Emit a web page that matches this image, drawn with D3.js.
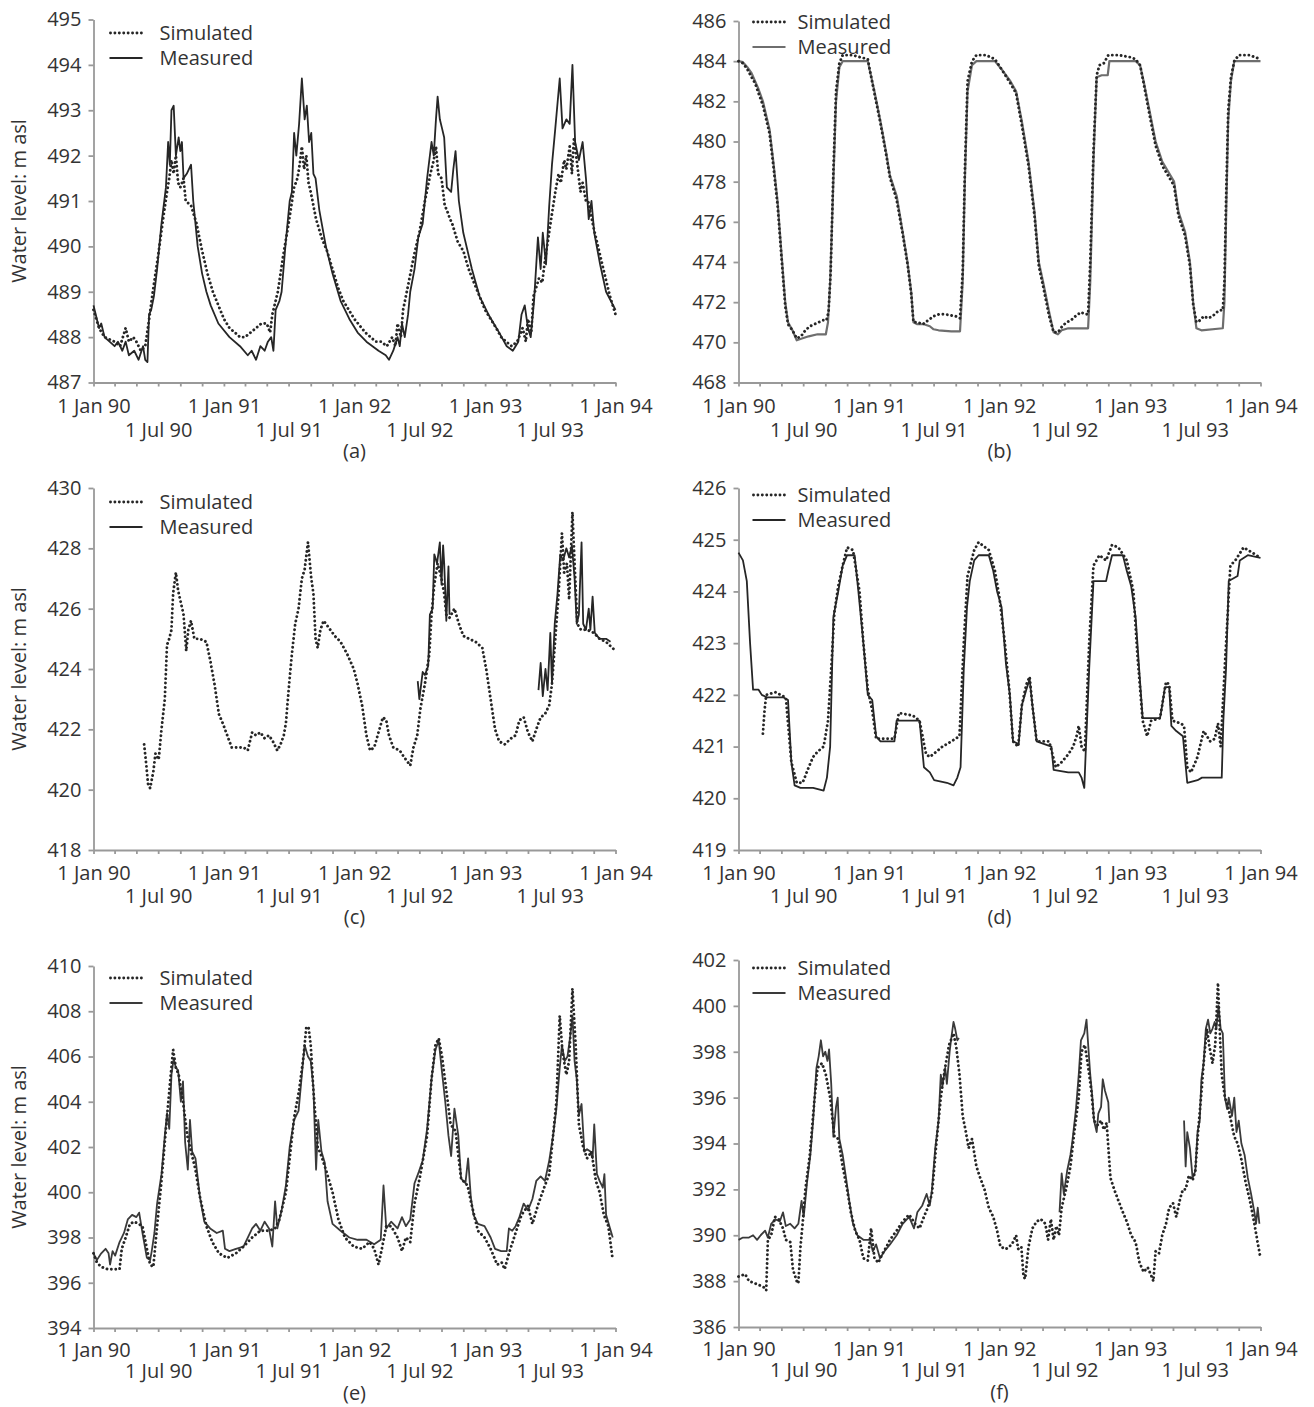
<!DOCTYPE html>
<html>
<head>
<meta charset="utf-8">
<title>Water level: simulated and measured</title>
<script src="https://cdn.jsdelivr.net/npm/d3@7"></script>
<style>
	body { margin: 0; background: #fff; }
	text { font-family: "Open Sans", sans-serif; fill: #333; }
</style>
</head>
<body>
<div id="vis"></div>
<script type="text/javascript">
// Each series: [months since 1 Jan 1990, water level (m asl)], null = gap in record
var simA = [[0,488.6],[0.5,488.2],[1,488.0],[1.5,487.95],[2,487.9],[2.5,487.8],[3,488.2],[3.3,487.9],[3.7,488.0],[4,487.9],[4.4,487.7],[4.8,487.8],[5.1,488.3],[5.5,489.0],[6,489.8],[6.5,490.7],[6.8,491.2],[7,491.5],[7.2,491.9],[7.4,491.6],[7.6,492.0],[7.8,491.4],[8,491.3],[8.3,491.5],[8.5,491.0],[9,490.9],[9.5,490.5],[10,489.9],[10.5,489.4],[11,489.0],[11.5,488.7],[12,488.4],[12.5,488.2],[13,488.1],[13.5,488.0],[14,488.0],[14.5,488.1],[15,488.2],[15.5,488.3],[16,488.3],[16.3,488.1],[16.5,488.5],[17,489.0],[17.5,489.8],[18,490.5],[18.5,491.3],[18.8,491.5],[19,491.8],[19.2,492.2],[19.4,491.7],[19.6,492.0],[19.8,491.4],[20,491.2],[20.5,490.6],[21,490.2],[21.5,489.9],[22,489.5],[22.5,489.1],[23,488.8],[23.5,488.6],[24,488.4],[25,488.1],[26,487.9],[26.5,487.9],[27,487.8],[27.5,488.0],[27.8,487.8],[28,488.3],[28.3,488.0],[28.5,488.6],[29,489.2],[29.5,489.8],[30,490.3],[30.5,491.0],[31,491.6],[31.3,491.9],[31.5,492.2],[31.7,491.6],[32,491.5],[32.3,490.9],[32.5,490.8],[32.8,490.6],[33,490.5],[33.5,490.1],[34,489.9],[34.5,489.5],[35,489.2],[35.5,488.9],[36,488.6],[36.5,488.4],[37,488.2],[37.5,488.0],[38,487.9],[38.5,487.8],[39,487.9],[39.5,488.2],[39.8,487.9],[40,488.4],[40.3,488.1],[40.5,488.9],[41,489.3],[41.3,489.2],[41.5,489.6],[42,490.4],[42.5,491.2],[42.8,491.6],[43,491.4],[43.3,491.9],[43.5,491.7],[43.8,492.2],[44,491.6],[44.2,492.4],[44.5,491.8],[44.8,491.2],[45,491.4],[45.3,491.0],[45.5,491.0],[46,490.4],[46.5,489.9],[47,489.4],[47.5,488.9],[48,488.5]];
var measA = [[0,488.7],[0.5,488.2],[0.7,488.3],[1.0,488.0],[1.5,487.9],[2.0,487.8],[2.3,487.9],[2.7,487.7],[3.0,487.9],[3.3,487.6],[3.8,487.7],[4.2,487.5],[4.6,487.8],[4.8,487.5],[5.0,487.45],[5.15,488.5],[5.35,488.6],[5.6,488.9],[5.9,489.5],[6.3,490.5],[6.7,491.3],[6.9,492.3],[7.05,491.8],[7.2,493.0],[7.4,493.1],[7.6,492.0],[7.85,492.4],[8.0,492.1],[8.15,492.3],[8.3,491.5],[8.6,491.6],[9.0,491.8],[9.2,491.0],[9.6,490.0],[10.0,489.4],[10.4,489.0],[10.8,488.7],[11.5,488.3],[12.5,488.0],[13.5,487.8],[14.25,487.6],[14.6,487.7],[15.0,487.5],[15.4,487.8],[15.8,487.7],[16.1,487.9],[16.4,488.0],[16.6,487.7],[16.8,488.6],[17.15,488.8],[17.35,489.0],[17.7,490.0],[18.1,491.0],[18.3,491.2],[18.5,492.5],[18.7,492.0],[18.95,492.7],[19.2,493.7],[19.45,492.8],[19.65,493.1],[19.85,492.3],[20.05,492.5],[20.25,491.6],[20.45,491.5],[20.8,490.8],[21.4,490.0],[22.0,489.4],[22.75,488.8],[23.55,488.4],[24.3,488.1],[25.1,487.9],[26.25,487.7],[26.9,487.6],[27.2,487.5],[27.6,487.7],[28.0,488.0],[28.2,487.8],[28.4,488.3],[28.65,488.0],[28.95,488.5],[29.15,489.0],[29.55,489.5],[29.9,490.2],[30.3,490.5],[30.7,491.5],[31.1,492.3],[31.3,492.0],[31.5,492.8],[31.65,493.3],[31.85,492.8],[32.05,492.6],[32.25,492.4],[32.5,491.3],[32.9,491.2],[33.1,491.7],[33.3,492.1],[33.6,491.0],[34.0,490.3],[34.8,489.5],[35.5,488.9],[36.3,488.5],[37.3,488.1],[38.05,487.8],[38.6,487.7],[39.1,487.9],[39.4,488.5],[39.7,488.7],[40.0,488.2],[40.25,488.0],[40.55,488.8],[40.9,490.2],[41.15,489.5],[41.35,490.3],[41.65,489.6],[41.95,490.9],[42.2,491.8],[42.5,492.6],[42.9,493.7],[43.15,492.6],[43.5,492.8],[43.8,492.7],[44.05,494.0],[44.3,492.3],[44.65,491.9],[45.0,492.3],[45.3,491.5],[45.55,490.6],[45.8,491.0],[46.05,490.3],[46.6,489.6],[47.15,489.0],[48,488.6]];

var simB = [[0,484.0],[0.4,483.9],[0.8,483.6],[1.2,483.2],[1.55,482.9],[1.9,482.4],[2.3,481.8],[2.6,481.1],[2.9,480.4],[3.25,478.8],[3.65,476.8],[4.0,474.3],[4.35,471.8],[4.6,470.9],[5.0,470.6],[5.4,470.2],[5.8,470.3],[6.2,470.6],[6.6,470.8],[7.0,470.9],[7.4,471.0],[7.8,471.1],[8.1,471.1],[8.3,471.5],[8.5,473.5],[8.75,478.5],[9.0,482.5],[9.3,483.9],[9.6,484.3],[10.5,484.3],[11.2,484.2],[11.9,484.1],[12.1,483.5],[12.5,482.4],[13.05,480.9],[13.6,479.4],[14.0,478.2],[14.6,477.1],[15.15,475.4],[15.6,473.9],[15.95,472.4],[16.15,471.0],[16.5,471.0],[17.0,470.9],[17.5,471.1],[18.0,471.3],[18.5,471.4],[19.0,471.4],[19.5,471.35],[20.0,471.3],[20.4,471.2],[20.65,473.5],[20.85,478.5],[21.1,483.0],[21.5,484.0],[21.9,484.3],[22.8,484.3],[23.6,484.1],[24.2,483.6],[25.0,482.9],[25.55,482.4],[26.1,480.8],[26.7,478.8],[27.25,476.3],[27.65,473.8],[28.05,472.8],[28.6,471.3],[29.0,470.5],[29.4,470.5],[29.8,470.8],[30.2,471.0],[30.6,471.1],[31.0,471.3],[31.5,471.5],[31.9,471.4],[32.15,471.4],[32.35,474.0],[32.65,479.5],[32.95,483.3],[33.2,483.8],[33.6,483.9],[34.0,484.3],[35.0,484.3],[36.0,484.2],[36.5,484.1],[36.9,483.8],[37.25,482.9],[37.85,481.3],[38.4,479.8],[39.0,478.8],[39.55,478.3],[40.1,477.8],[40.5,476.3],[41.1,475.3],[41.55,473.8],[41.85,471.9],[42.15,471.0],[42.5,471.1],[42.8,471.3],[43.2,471.2],[43.6,471.3],[44.0,471.5],[44.3,471.6],[44.55,471.6],[44.7,473.0],[44.85,477.0],[45.05,481.5],[45.3,483.2],[45.6,484.0],[46.0,484.3],[47.0,484.3],[48,484.1]];
var measB = [[0,484.0],[0.4,483.95],[0.8,483.7],[1.2,483.4],[1.55,483.0],[1.9,482.6],[2.3,482.0],[2.6,481.3],[2.9,480.6],[3.25,479.0],[3.65,477.0],[4.0,474.5],[4.35,472.0],[4.6,471.0],[5.0,470.6],[5.4,470.1],[5.95,470.2],[6.5,470.3],[7.3,470.4],[8.05,470.4],[8.25,471.0],[8.45,473.0],[8.75,478.0],[9.0,482.0],[9.3,483.7],[9.6,484.0],[11.9,484.0],[12.1,483.5],[12.5,482.5],[13.05,481.0],[13.6,479.5],[14.0,478.3],[14.6,477.3],[15.15,475.5],[15.6,474.0],[15.95,472.5],[16.15,471.0],[16.5,470.9],[17.1,470.9],[17.65,470.8],[18.0,470.65],[18.45,470.6],[19.6,470.55],[20.4,470.55],[20.65,473.0],[20.85,478.0],[21.1,482.5],[21.5,483.8],[21.9,484.0],[23.6,484.0],[24.2,483.6],[25.0,483.0],[25.55,482.5],[26.1,481.0],[26.7,479.0],[27.25,476.5],[27.65,474.0],[28.05,473.0],[28.6,471.5],[29.0,470.5],[29.4,470.4],[29.75,470.6],[30.35,470.7],[31.1,470.7],[32.15,470.7],[32.35,473.0],[32.65,479.0],[32.95,483.2],[33.4,483.3],[33.95,483.3],[34.1,484.0],[36.5,484.0],[36.9,483.8],[37.25,483.0],[37.85,481.5],[38.4,480.0],[39.0,479.0],[39.55,478.5],[40.1,478.0],[40.5,476.5],[41.1,475.5],[41.55,474.0],[41.85,472.0],[42.15,470.7],[42.6,470.6],[44.55,470.7],[44.7,472.0],[44.85,476.0],[45.05,481.0],[45.3,483.0],[45.6,484.0],[48,484.0]];

var simC = [[4.7,421.5],[4.9,420.8],[5.05,420.2],[5.25,420.05],[5.55,420.6],[5.75,421.2],[6.05,421.0],[6.3,422.0],[6.6,423.0],[6.8,424.8],[7.0,425.0],[7.2,425.3],[7.35,426.5],[7.6,427.2],[7.8,426.6],[8.05,426.2],[8.3,425.8],[8.55,424.6],[8.75,425.3],[9.0,425.6],[9.3,425.0],[9.8,425.0],[10.4,424.9],[10.75,424.3],[11.15,423.5],[11.55,422.5],[11.9,422.2],[12.3,421.8],[12.7,421.4],[13.3,421.4],[13.85,421.4],[14.25,421.3],[14.65,421.9],[15.0,421.8],[15.4,421.9],[15.8,421.7],[16.2,421.8],[16.55,421.6],[16.95,421.3],[17.25,421.5],[17.55,421.8],[17.75,422.2],[18.05,423.5],[18.3,424.5],[18.6,425.5],[18.9,426.0],[19.2,427.0],[19.45,427.3],[19.75,428.2],[20.05,427.0],[20.25,426.5],[20.45,425.0],[20.65,424.7],[20.9,425.3],[21.2,425.6],[21.6,425.4],[22.2,425.1],[22.75,424.9],[23.35,424.5],[23.95,424.0],[24.3,423.5],[24.7,422.8],[25.1,421.8],[25.45,421.3],[25.85,421.4],[26.25,421.9],[26.65,422.4],[26.95,422.3],[27.2,421.8],[27.6,421.4],[28.2,421.3],[28.55,421.1],[28.95,420.9],[29.15,420.8],[29.45,421.4],[29.8,421.8],[30.1,422.7],[30.5,423.5],[30.9,424.5],[31.1,425.8],[31.35,426.8],[31.65,427.5],[32.0,427.0],[32.25,426.5],[32.45,425.8],[32.75,425.7],[33.2,426.0],[33.6,425.5],[34.0,425.1],[34.55,425.0],[35.15,424.9],[35.75,424.7],[36.1,424.0],[36.5,423.0],[36.9,422.0],[37.3,421.6],[37.85,421.5],[38.45,421.7],[38.85,421.8],[39.2,422.3],[39.6,422.4],[40.0,421.9],[40.4,421.6],[40.75,422.0],[41.15,422.4],[41.55,422.5],[41.95,422.8],[42.2,423.5],[42.5,425.0],[42.8,426.5],[43.1,428.5],[43.3,427.2],[43.55,427.5],[43.75,426.3],[44.05,429.2],[44.25,427.5],[44.5,425.5],[44.85,425.3],[45.4,425.3],[46.0,425.2],[46.55,425.0],[47.15,424.9],[48,424.6]];
var measC = [[29.85,423.6],[30.0,423.0],[30.3,423.9],[30.5,423.8],[30.8,424.1],[30.95,425.8],[31.2,426.0],[31.35,427.8],[31.6,427.5],[31.85,428.2],[32.0,426.8],[32.15,428.1],[32.25,427.5],[32.45,425.6],[32.65,427.4],[32.75,425.8],[32.8,null],[40.95,423.3],[41.15,424.2],[41.35,423.1],[41.6,424.0],[41.8,423.3],[42.05,425.2],[42.2,423.5],[42.45,425.5],[42.7,426.5],[42.95,427.8],[43.2,427.6],[43.5,428.0],[43.75,427.7],[44.0,428.1],[44.25,427.0],[44.45,425.5],[44.65,425.8],[44.9,428.2],[45.05,425.5],[45.3,425.3],[45.55,426.0],[45.7,425.3],[45.9,426.4],[46.1,425.2],[46.55,425.0],[47.15,425.0],[47.55,424.9]];

var simD = [[2.3,421.25],[2.45,421.7],[2.6,422.0],[3.45,422.05],[4.4,421.95],[4.9,420.7],[5.4,420.3],[5.95,420.3],[6.5,420.6],[6.9,420.8],[7.3,420.9],[7.85,421.0],[8.25,421.5],[8.55,422.5],[8.85,423.6],[9.2,424.1],[9.6,424.5],[10.0,424.85],[10.55,424.8],[11.15,424.0],[11.5,423.0],[11.9,422.1],[12.3,421.7],[12.65,421.15],[14.4,421.15],[14.8,421.65],[16.1,421.6],[16.7,421.5],[17.3,420.85],[17.65,420.8],[18.25,420.9],[18.8,421.0],[19.6,421.1],[20.35,421.2],[20.75,423.0],[21.1,424.3],[21.7,424.8],[22.1,424.95],[23.05,424.8],[23.6,424.4],[24.0,423.9],[24.5,423.0],[24.9,422.1],[25.25,421.1],[25.75,421.0],[26.1,421.8],[26.5,422.2],[26.8,422.35],[27.05,421.8],[27.45,421.1],[28.6,421.1],[29.2,420.6],[29.75,420.7],[30.35,420.85],[30.8,421.0],[31.1,421.2],[31.3,421.4],[31.55,421.0],[31.85,420.9],[32.25,423.0],[32.65,424.5],[33.2,424.7],[33.8,424.6],[34.35,424.9],[34.95,424.85],[35.7,424.6],[36.3,424.0],[36.65,422.8],[37.15,421.5],[37.6,421.2],[38.0,421.5],[38.8,421.55],[39.35,422.25],[39.65,422.2],[39.95,421.5],[40.7,421.45],[41.0,421.4],[41.3,420.6],[41.65,420.5],[42.25,420.8],[42.8,421.3],[43.4,421.1],[43.8,421.15],[44.1,421.45],[44.35,421.0],[44.75,422.6],[45.25,424.5],[45.7,424.6],[46.45,424.85],[47.25,424.75],[48,424.65]];
var measD = [[0,424.75],[0.4,424.6],[0.75,424.2],[1.05,423.0],[1.35,422.1],[1.9,422.1],[2.2,422.0],[2.7,421.95],[4.2,421.95],[4.6,421.9],[4.9,420.7],[5.2,420.25],[5.75,420.2],[6.9,420.2],[7.85,420.15],[8.15,420.4],[8.45,421.0],[8.75,423.5],[9.2,424.0],[9.6,424.5],[10.0,424.7],[10.7,424.7],[11.05,424.0],[11.5,423.0],[11.9,422.0],[12.3,421.9],[12.65,421.2],[13.05,421.1],[14.4,421.1],[14.6,421.5],[15.35,421.5],[16.7,421.5],[17.1,420.6],[17.65,420.5],[18.05,420.35],[19.2,420.3],[19.8,420.25],[20.15,420.4],[20.45,420.6],[20.75,422.5],[21.05,423.7],[21.3,424.2],[21.7,424.6],[22.1,424.7],[23.05,424.7],[23.45,424.4],[23.8,424.0],[24.2,423.7],[24.6,422.6],[24.95,422.0],[25.25,421.1],[25.8,421.05],[26.1,421.8],[26.5,422.1],[26.8,422.3],[27.05,421.8],[27.45,421.1],[28.8,421.0],[29.0,420.55],[30.35,420.5],[31.3,420.5],[31.55,420.4],[31.8,420.2],[31.95,421.0],[32.25,422.5],[32.65,424.2],[33.8,424.2],[34.0,424.4],[34.35,424.7],[35.35,424.7],[35.7,424.4],[36.1,424.1],[36.5,423.5],[36.85,422.4],[37.15,421.55],[38.8,421.55],[39.0,421.8],[39.25,422.15],[39.65,422.15],[39.85,421.4],[40.3,421.3],[40.9,421.2],[41.3,420.3],[42.25,420.35],[42.65,420.4],[44.15,420.4],[44.45,420.4],[44.6,421.5],[44.85,422.5],[45.1,424.2],[45.9,424.3],[46.1,424.6],[46.85,424.7],[48,424.65]];

var simE = [[0,397.3],[0.3,396.9],[0.7,396.7],[1.3,396.6],[1.85,396.6],[2.45,396.6],[2.65,397.5],[3.0,398.0],[3.4,398.6],[3.8,398.7],[4.2,398.6],[4.55,398.5],[4.95,397.5],[5.25,396.8],[5.55,396.7],[5.9,398.5],[6.3,400.5],[6.7,402.8],[7.1,405.0],[7.35,406.3],[7.6,405.5],[7.85,405.2],[8.25,404.0],[8.65,402.5],[9.0,401.8],[9.4,401.0],[9.8,399.8],[10.4,398.5],[10.95,397.8],[11.55,397.3],[12.3,397.1],[13.1,397.3],[13.85,397.6],[14.65,398.0],[15.4,398.3],[16.2,398.3],[16.75,398.4],[17.15,398.8],[17.75,400.0],[18.1,401.5],[18.5,403.3],[18.95,404.5],[19.35,406.0],[19.6,407.3],[19.8,407.3],[20.0,406.5],[20.25,404.5],[20.65,402.0],[21.0,401.6],[21.4,401.0],[22.0,400.0],[22.55,398.8],[23.15,398.0],[23.95,397.6],[24.7,397.5],[25.4,397.8],[25.85,397.5],[26.25,396.8],[26.55,397.5],[26.95,398.5],[27.4,398.5],[28.0,398.0],[28.4,397.4],[28.75,398.0],[29.15,397.8],[29.55,399.5],[30.1,400.8],[30.7,402.5],[31.1,405.0],[31.45,406.5],[31.75,406.8],[32.05,406.0],[32.45,404.5],[32.85,403.0],[33.3,402.7],[33.8,400.6],[34.4,400.3],[34.75,399.5],[35.35,398.3],[35.95,398.0],[36.5,397.5],[37.1,396.8],[37.55,396.9],[37.85,396.6],[38.25,397.3],[38.85,398.2],[39.4,399.0],[40.0,399.4],[40.4,398.6],[40.95,399.5],[41.55,400.3],[41.95,400.8],[42.3,402.5],[42.6,404.0],[42.9,407.8],[43.15,406.2],[43.5,405.2],[43.75,405.8],[44.05,409.0],[44.35,406.5],[44.65,403.0],[45.05,402.0],[45.4,401.5],[45.8,401.8],[46.2,400.5],[46.55,400.0],[46.95,399.0],[47.35,398.5],[47.75,397.0]];
var measE = [[0,397.3],[0.3,397.0],[0.7,397.3],[1.1,397.5],[1.4,397.3],[1.55,396.8],[1.8,397.4],[2.05,397.2],[2.45,397.8],[2.85,398.2],[3.2,398.8],[3.6,399.0],[4.0,398.9],[4.25,399.1],[4.55,398.2],[4.95,397.1],[5.25,397.0],[5.4,397.4],[5.65,398.2],[5.9,399.5],[6.3,400.8],[6.6,402.5],[6.8,403.5],[7.0,402.8],[7.2,405.2],[7.4,405.9],[7.6,405.5],[7.8,405.4],[8.05,404.0],[8.25,404.9],[8.45,402.2],[8.7,401.0],[8.9,403.2],[9.1,401.8],[9.4,401.5],[9.8,399.8],[10.2,398.7],[10.75,398.4],[11.35,398.2],[11.9,398.3],[12.1,397.5],[12.5,397.4],[13.1,397.5],[13.85,397.6],[14.65,398.4],[15.0,398.6],[15.4,398.3],[15.8,398.7],[16.2,398.4],[16.5,397.6],[16.75,399.6],[16.95,398.4],[17.35,399.2],[17.75,400.3],[18.1,402.0],[18.5,403.2],[18.9,403.6],[19.2,405.2],[19.45,406.5],[19.75,406.0],[20.0,405.8],[20.25,404.6],[20.5,401.0],[20.7,403.2],[21.0,401.8],[21.3,401.3],[21.55,399.6],[22.0,398.6],[22.75,398.3],[23.55,398.0],[24.3,397.9],[25.1,397.9],[25.85,397.7],[26.45,397.9],[26.7,400.3],[26.95,398.4],[27.4,398.7],[28.0,398.4],[28.4,398.9],[28.75,398.5],[29.15,398.8],[29.55,400.4],[29.95,400.9],[30.3,401.4],[30.7,402.8],[31.1,405.0],[31.45,406.3],[31.75,406.7],[32.05,405.3],[32.35,404.0],[32.65,402.5],[32.9,401.6],[33.2,403.7],[33.55,402.5],[33.8,400.6],[34.2,400.4],[34.45,401.5],[34.7,399.8],[34.95,399.0],[35.35,398.6],[35.95,398.5],[36.5,398.0],[36.9,397.5],[37.5,397.4],[38.05,397.4],[38.25,398.4],[38.55,398.3],[38.85,398.5],[39.2,398.9],[39.6,399.5],[40.0,399.2],[40.4,399.7],[40.75,400.5],[41.15,400.7],[41.55,400.5],[41.95,401.4],[42.3,402.5],[42.6,403.7],[42.9,405.5],[43.1,406.5],[43.35,405.8],[43.6,406.0],[43.85,406.9],[44.05,407.8],[44.25,405.8],[44.45,405.0],[44.65,403.4],[44.9,403.9],[45.15,401.8],[45.4,401.9],[45.7,401.8],[45.9,401.5],[46.05,403.0],[46.3,400.8],[46.55,400.5],[46.85,400.2],[47.0,400.8],[47.15,399.0],[47.45,398.5],[47.75,398.0]];

var simF = [[0,388.2],[0.6,388.3],[0.95,388.0],[1.55,387.9],[2.1,387.8],[2.5,387.7],[2.6,387.6],[2.75,389.8],[3.05,390.0],[3.4,390.8],[3.75,390.7],[4.15,390.3],[4.4,389.8],[4.8,389.7],[5.05,388.5],[5.4,388.0],[5.55,387.9],[5.75,389.5],[5.95,390.5],[6.2,392.0],[6.6,393.5],[7.0,395.8],[7.3,397.3],[7.7,397.5],[8.05,397.0],[8.45,396.0],[8.85,394.3],[9.2,394.2],[9.6,393.0],[10.0,392.0],[10.35,391.0],[10.75,390.2],[11.15,389.8],[11.5,389.0],[11.9,388.9],[12.2,390.3],[12.5,389.0],[12.85,388.8],[13.25,389.2],[13.65,389.5],[14.0,389.8],[14.6,390.2],[15.15,390.6],[15.75,390.9],[16.3,390.5],[16.7,390.3],[17.1,390.8],[17.45,391.2],[17.85,391.8],[18.25,394.0],[18.65,396.0],[19.0,397.2],[19.4,398.3],[19.8,398.8],[20.05,398.2],[20.35,397.0],[20.65,395.2],[20.95,394.5],[21.2,393.8],[21.5,394.2],[21.9,393.0],[22.25,392.5],[22.65,392.0],[23.05,391.2],[23.45,390.8],[23.8,390.2],[24.1,389.5],[24.6,389.4],[25.15,389.6],[25.55,390.0],[25.75,389.4],[26.05,389.5],[26.25,388.2],[26.4,388.1],[26.7,389.5],[27.05,390.3],[27.45,390.6],[27.85,390.7],[28.25,390.5],[28.5,389.8],[28.75,390.7],[29.0,389.8],[29.25,390.4],[29.5,390.0],[29.75,391.2],[30.15,392.0],[30.55,393.0],[30.9,394.5],[31.3,396.0],[31.55,398.0],[31.85,398.3],[32.2,397.2],[32.45,396.3],[32.7,395.0],[33.05,394.8],[33.35,395.0],[33.6,394.6],[33.85,394.9],[34.2,392.5],[34.55,392.0],[34.95,391.5],[35.35,391.0],[35.7,390.6],[36.1,390.0],[36.5,389.7],[36.85,388.8],[37.25,388.4],[37.65,388.6],[37.95,388.3],[38.2,388.0],[38.4,389.3],[38.7,389.2],[39.0,390.0],[39.35,390.5],[39.65,391.2],[40.0,391.4],[40.3,390.8],[40.65,391.6],[40.9,392.0],[41.15,392.0],[41.45,392.6],[41.8,392.4],[42.05,392.8],[42.3,394.5],[42.65,396.5],[42.8,397.5],[43.1,399.0],[43.3,398.3],[43.6,397.5],[43.85,398.3],[44.1,401.0],[44.3,398.5],[44.45,397.0],[44.75,396.0],[45.0,395.7],[45.3,395.0],[45.6,394.3],[45.9,394.0],[46.25,393.3],[46.65,392.3],[47.05,391.5],[47.45,390.5],[47.7,389.8],[48,389.0]];
var measF = [[0,389.8],[0.4,389.9],[0.95,389.9],[1.35,390.0],[1.75,389.8],[2.1,390.0],[2.5,390.2],[2.75,389.9],[3.05,390.5],[3.45,390.7],[3.85,390.6],[4.15,391.0],[4.4,390.4],[4.8,390.5],[5.2,390.3],[5.55,390.5],[5.85,391.5],[6.05,390.8],[6.35,392.3],[6.65,393.5],[6.9,395.0],[7.2,397.3],[7.4,397.8],[7.6,398.5],[7.8,397.8],[8.0,398.0],[8.2,397.6],[8.35,398.1],[8.55,396.6],[8.75,394.3],[9.0,395.6],[9.15,396.0],[9.3,394.2],[9.6,393.5],[9.9,392.5],[10.2,391.5],[10.55,390.5],[10.95,390.0],[11.5,389.8],[12.1,389.8],[12.35,389.3],[12.65,389.6],[13.0,389.0],[13.45,389.3],[14.0,389.6],[14.6,390.0],[15.15,390.5],[15.75,390.8],[16.2,390.3],[16.5,391.0],[16.95,391.3],[17.35,391.8],[17.65,391.3],[17.85,392.0],[18.15,393.8],[18.45,395.0],[18.65,397.0],[18.8,396.5],[19.05,397.3],[19.2,396.6],[19.45,398.0],[19.6,398.6],[19.8,399.3],[19.95,399.0],[20.15,398.5],[20.3,398.6],[20.35,null],[29.55,391.0],[29.75,392.7],[29.95,391.8],[30.25,392.8],[30.55,393.5],[30.7,394.0],[31.05,395.5],[31.3,397.0],[31.5,398.5],[31.8,398.8],[32.0,399.4],[32.2,398.0],[32.35,397.0],[32.55,396.0],[32.7,395.0],[32.95,394.5],[33.1,395.3],[33.35,395.6],[33.5,396.8],[33.7,396.3],[34.0,395.8],[34.1,394.9],[34.15,null],[41.0,395.0],[41.15,393.0],[41.3,394.5],[41.55,393.8],[41.8,392.5],[42.05,392.8],[42.25,394.5],[42.45,395.0],[42.6,396.8],[42.8,397.5],[43.0,399.0],[43.2,399.4],[43.4,398.8],[43.6,399.0],[43.8,399.3],[43.95,399.0],[44.15,400.0],[44.35,399.0],[44.55,398.8],[44.75,396.0],[44.95,395.5],[45.1,396.0],[45.4,395.2],[45.6,396.0],[45.8,394.5],[46.0,395.0],[46.25,394.0],[46.55,393.5],[46.85,392.5],[47.15,391.8],[47.45,391.0],[47.6,390.5],[47.75,391.2],[47.9,390.5]];

// y tick labels for each panel
var yTicksA = [487,488,489,490,491,492,493,494,495];
var yTicksB = [468,470,472,474,476,478,480,482,484,486];
var yTicksC = [418,420,422,424,426,428,430];
var yTicksD = [419,420,421,422,423,424,425,426];
var yTicksE = [394,396,398,400,402,404,406,408,410];
var yTicksF = [386,388,390,392,394,396,398,400,402];

var seriesNames = ['Simulated', 'Measured'];
var panelLabels = ['(a)', '(b)', '(c)', '(d)', '(e)', '(f)'];

const PLOT_W = 522;
const AXIS_COLOR = '#999999';
const FONT_SIZE = 20;
const DOTS = '0.01 4.4';

// lab1/lab2/labP: baselines of Jan labels, Jul labels and panel letter below the x axis
var panels = [
	{sim: simA, meas: measA, ticks: yTicksA, left: 93.5, top: 19.5, bottom: 382.5, lab1: 30.5, lab2: 54.5, labP: 75.5, title: true, legX: 16, txtX: 66, legY: 33, measColor: '#262626'},
	{sim: simB, meas: measB, ticks: yTicksB, left: 738.5, top: 21, bottom: 382.5, lab1: 30.5, lab2: 54.5, labP: 75.5, title: false, legX: 14, txtX: 59, legY: 22, measColor: '#6e6e6e'},
	{sim: simC, meas: measC, ticks: yTicksC, left: 93.5, top: 488, bottom: 850, lab1: 30, lab2: 53, labP: 74, title: true, legX: 16, txtX: 66, legY: 502, measColor: '#262626'},
	{sim: simD, meas: measD, ticks: yTicksD, left: 738.5, top: 488, bottom: 850, lab1: 30, lab2: 53, labP: 74, title: false, legX: 14, txtX: 59, legY: 495, measColor: '#262626'},
	{sim: simE, meas: measE, ticks: yTicksE, left: 93.5, top: 966, bottom: 1328, lab1: 28.5, lab2: 50, labP: 72, title: true, legX: 16, txtX: 66, legY: 978, measColor: '#3a3a3a'},
	{sim: simF, meas: measF, ticks: yTicksF, left: 738.5, top: 960, bottom: 1327, lab1: 28.5, lab2: 50, labP: 72, title: false, legX: 14, txtX: 59, legY: 968, measColor: '#3a3a3a'}
];

var svg = d3.select('#vis').append('svg')
	.attr('width', 1314)
	.attr('height', 1407);

var t0 = new Date(Date.UTC(1990, 0, 1));
var t1 = new Date(Date.UTC(1994, 0, 1));
// months since 1 Jan 90 -> date
function toDate(m) {
	var i = Math.floor(m);
	var a = d3.utcMonth.offset(t0, i);
	var b = d3.utcMonth.offset(a, 1);
	return new Date(+a + (m - i) * (b - a));
}
var fmt = d3.utcFormat('%-d %b %y');

panels.forEach(function(p, idx) {
	var g = svg.append('g');
	var x = d3.scaleUtc().domain([t0, t1]).range([p.left, p.left + PLOT_W]);
	var y = d3.scaleLinear().domain([p.ticks[0], p.ticks[p.ticks.length - 1]]).range([p.bottom, p.top]);
	var measW = idx === 1 ? 2.2 : 1.8;

	// axes
	var xAxis = d3.axisBottom(x)
		.ticks(d3.utcMonth.every(2))
		.tickSize(4).tickSizeOuter(0)
		.tickFormat(function(d) {
			var mo = d.getUTCMonth();
			return (mo === 0 || mo === 6) ? fmt(d) : '';
		});
	var gx = g.append('g').attr('transform', 'translate(0,' + p.bottom + ')').call(xAxis);
	gx.selectAll('.tick text')
		.attr('dy', null)
		.attr('y', function(d) { return d.getUTCMonth() === 6 ? p.lab2 : p.lab1; });

	var yAxis = d3.axisLeft(y).tickValues(p.ticks)
		.tickFormat(d3.format('d'))
		.tickSize(5).tickSizeOuter(0).tickPadding(7);
	var gy = g.append('g').attr('transform', 'translate(' + p.left + ',0)').call(yAxis);

	[gx, gy].forEach(function(ax) {
		ax.attr('font-family', null).attr('font-size', FONT_SIZE);
		ax.selectAll('path, line').attr('stroke', AXIS_COLOR).attr('stroke-width', 1.8);
		ax.selectAll('text').attr('fill', '#333');
	});

	// series
	var line = d3.line()
		.defined(function(d) { return d[1] != null; })
		.x(function(d) { return x(toDate(d[0])); })
		.y(function(d) { return y(d[1]); });

	g.append('path').datum(p.meas)
		.attr('d', line)
		.attr('fill', 'none')
		.attr('stroke', p.measColor)
		.attr('stroke-width', measW)
		.attr('stroke-linejoin', 'round');

	g.append('path').datum(p.sim)
		.attr('d', line)
		.attr('fill', 'none')
		.attr('stroke', '#262626')
		.attr('stroke-width', 2.9)
		.attr('stroke-linecap', 'round')
		.attr('stroke-dasharray', DOTS);

	// legend
	var lg = g.append('g').attr('transform', 'translate(' + p.left + ',' + p.legY + ')');
	lg.append('line').attr('x1', p.legX + 1).attr('x2', p.legX + 33).attr('y1', 0).attr('y2', 0)
		.attr('stroke', '#262626').attr('stroke-width', 2.9)
		.attr('stroke-linecap', 'round').attr('stroke-dasharray', DOTS);
	lg.append('line').attr('x1', p.legX).attr('x2', p.legX + 33).attr('y1', 25).attr('y2', 25)
		.attr('stroke', p.measColor).attr('stroke-width', measW);
	seriesNames.forEach(function(name, i) {
		lg.append('text').attr('x', p.txtX).attr('y', i * 25)
			.attr('dy', '0.35em').attr('font-size', FONT_SIZE).text(name);
	});

	// panel label
	g.append('text')
		.attr('x', p.left + PLOT_W / 2)
		.attr('y', p.bottom + p.labP)
		.attr('text-anchor', 'middle')
		.attr('font-size', FONT_SIZE)
		.text(panelLabels[idx]);

	if (p.title) {
		g.append('text')
			.attr('transform', 'translate(19,' + ((p.top + p.bottom) / 2) + ') rotate(-90)')
			.attr('text-anchor', 'middle')
			.attr('dy', '0.35em')
			.attr('font-size', FONT_SIZE)
			.text('Water level: m asl');
	}
});
</script>
</body>
</html>
